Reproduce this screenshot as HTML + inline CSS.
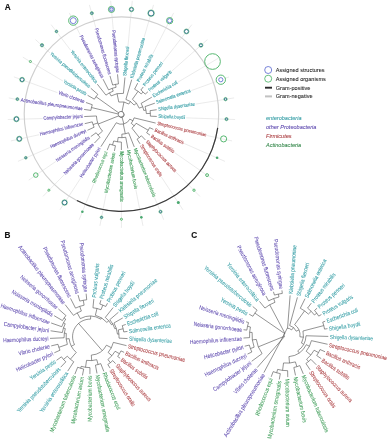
<!DOCTYPE html>
<html><head><meta charset="utf-8"><style>
html,body{margin:0;padding:0;background:#fff;}
body{width:388px;height:440px;overflow:hidden;font-family:"Liberation Sans",sans-serif;}
svg{display:block;will-change:transform;}
text{font-family:"Liberation Sans",sans-serif;}
</style></head><body>
<svg width="388" height="440" viewBox="0 0 388 440" font-family="Liberation Sans, sans-serif"><path d="M19.92 100.19L8.81 97.89M57.52 92.68L13.91 76.86M62.92 81.02L22.9 57.19M49.96 52.89L35.46 39.56M70.71 50.34L51.12 24.64M80.19 34.88L69.32 12.94M95.77 27.55L89.4 4.91M113.25 29.61L110.65 0.81M127.96 46L132.28 0.82M144.15 37.26L153.53 4.91M152.81 53.82L173.61 12.96M162.85 62.05L191.81 24.66M171.95 70.97L207.46 39.59M178.15 82.01L220.01 57.21M191.26 90.59L229 76.9M195.59 104.11L234.09 97.92M186.17 117.86L235.12 119.53M207.2 135.59L232.04 140.95M184.26 143.49L224.96 161.39M174.5 152.6L214.14 180.12M176.09 172.15L199.97 196.47M161.33 176.92L182.96 209.84M154.58 197.68L163.73 219.75M135.85 189.79L142.97 225.85M121.39 202.37L121.43 227.9M106.17 193.74L99.9 225.84M93.77 183.78L79.14 219.74M80.83 177.9L59.91 209.83M64.23 174.73L42.91 196.45M55.88 161.43L28.74 180.1M49.72 147.51L17.93 161.36M39.14 134.74L10.85 140.91M42.55 118.54L7.78 119.5" stroke="#d2d2d2" stroke-width="0.45" fill="none"/>
<circle cx="121.45" cy="114.1" r="97.25" stroke="#cfcfcf" stroke-width="1.15" fill="none"/>
<path d="M217.71 127.95A97.25 97.25 0 0 1 76.88 200.53" stroke="#3a3a3a" stroke-width="1.2" fill="none"/>
<circle cx="17.37" cy="99.12" r="1.5" stroke="#45b062" stroke-width="0.6" fill="#fff"/>
<circle cx="17.37" cy="99.12" r="0.95" stroke="#2b6f86" stroke-width="0.9" fill="none"/>
<circle cx="22.09" cy="79.69" r="2.4" stroke="#45b062" stroke-width="0.6" fill="#fff"/>
<circle cx="22.09" cy="79.69" r="1.85" stroke="#2b6f86" stroke-width="0.9" fill="none"/>
<circle cx="30.39" cy="61.51" r="1.05" stroke="#45b062" stroke-width="0.9" fill="none"/>
<circle cx="41.99" cy="45.23" r="1.7" stroke="#45b062" stroke-width="0.6" fill="#fff"/>
<circle cx="41.99" cy="45.23" r="1.15" stroke="#2b6f86" stroke-width="0.9" fill="none"/>
<circle cx="56.46" cy="31.44" r="1.4" stroke="#45b062" stroke-width="0.6" fill="#fff"/>
<circle cx="56.46" cy="31.44" r="0.85" stroke="#2b6f86" stroke-width="0.9" fill="none"/>
<circle cx="73.28" cy="20.63" r="4.65" stroke="#45b062" stroke-width="0.9" fill="#fff"/>
<circle cx="73.28" cy="20.63" r="3" stroke="#5565cf" stroke-width="0.8" fill="none"/>
<circle cx="91.84" cy="13.21" r="1.6" stroke="#45b062" stroke-width="0.6" fill="#fff"/>
<circle cx="91.84" cy="13.21" r="1.05" stroke="#2b6f86" stroke-width="0.9" fill="none"/>
<circle cx="111.47" cy="9.42" r="3.05" stroke="#45b062" stroke-width="0.9" fill="#d9dcf5"/>
<circle cx="111.47" cy="9.42" r="1.8" stroke="#5565cf" stroke-width="0.8" fill="none"/>
<circle cx="131.46" cy="9.43" r="2.3" stroke="#45b062" stroke-width="0.6" fill="#fff"/>
<circle cx="131.46" cy="9.43" r="1.75" stroke="#2b6f86" stroke-width="0.9" fill="none"/>
<circle cx="151.09" cy="13.21" r="3.3" stroke="#45b062" stroke-width="0.6" fill="#fff"/>
<circle cx="151.09" cy="13.21" r="2.75" stroke="#2b6f86" stroke-width="0.9" fill="none"/>
<circle cx="169.65" cy="20.65" r="3.15" stroke="#45b062" stroke-width="0.9" fill="#fff"/>
<circle cx="169.65" cy="20.65" r="2.1" stroke="#5565cf" stroke-width="0.8" fill="none"/>
<circle cx="186.46" cy="31.46" r="2.5" stroke="#45b062" stroke-width="0.6" fill="#fff"/>
<circle cx="186.46" cy="31.46" r="1.95" stroke="#2b6f86" stroke-width="0.9" fill="none"/>
<circle cx="200.93" cy="45.25" r="2" stroke="#45b062" stroke-width="0.6" fill="#fff"/>
<circle cx="200.93" cy="45.25" r="1.45" stroke="#2b6f86" stroke-width="0.9" fill="none"/>
<circle cx="212.52" cy="61.54" r="7.85" stroke="#45b062" stroke-width="0.9" fill="none"/>
<circle cx="220.82" cy="79.72" r="4.65" stroke="#45b062" stroke-width="0.9" fill="#fff"/>
<circle cx="220.82" cy="79.72" r="2.1" stroke="#5565cf" stroke-width="0.8" fill="none"/>
<circle cx="225.53" cy="99.15" r="1.7" stroke="#45b062" stroke-width="0.6" fill="#fff"/>
<circle cx="225.53" cy="99.15" r="1.15" stroke="#2b6f86" stroke-width="0.9" fill="none"/>
<circle cx="226.48" cy="119.12" r="1.6" stroke="#45b062" stroke-width="0.6" fill="#fff"/>
<circle cx="226.48" cy="119.12" r="1.05" stroke="#2b6f86" stroke-width="0.9" fill="none"/>
<circle cx="223.63" cy="138.9" r="3.05" stroke="#45b062" stroke-width="0.9" fill="none"/>
<circle cx="217.09" cy="157.79" r="1.3" fill="#4aa870"/>
<circle cx="207.09" cy="175.11" r="1.45" stroke="#45b062" stroke-width="0.9" fill="none"/>
<circle cx="194" cy="190.21" r="1.15" stroke="#45b062" stroke-width="0.9" fill="none"/>
<circle cx="178.29" cy="202.57" r="1.5" fill="#4aa870"/>
<circle cx="160.52" cy="211.72" r="1.6" stroke="#45b062" stroke-width="0.6" fill="#fff"/>
<circle cx="160.52" cy="211.72" r="1.05" stroke="#2b6f86" stroke-width="0.9" fill="none"/>
<circle cx="141.34" cy="217.35" r="1.3" fill="#4aa870"/>
<circle cx="121.43" cy="219.25" r="1.05" stroke="#45b062" stroke-width="0.9" fill="none"/>
<circle cx="101.54" cy="217.35" r="1.4" stroke="#45b062" stroke-width="0.6" fill="#fff"/>
<circle cx="101.54" cy="217.35" r="0.85" stroke="#2b6f86" stroke-width="0.9" fill="none"/>
<circle cx="82.36" cy="211.71" r="1.3" fill="#4aa870"/>
<circle cx="64.59" cy="202.55" r="2.8" stroke="#45b062" stroke-width="0.6" fill="#fff"/>
<circle cx="64.59" cy="202.55" r="2.25" stroke="#2b6f86" stroke-width="0.9" fill="none"/>
<circle cx="48.88" cy="190.19" r="1.05" stroke="#45b062" stroke-width="0.9" fill="none"/>
<circle cx="35.79" cy="175.08" r="2.25" stroke="#45b062" stroke-width="0.9" fill="none"/>
<circle cx="25.8" cy="157.77" r="1.4" stroke="#45b062" stroke-width="0.6" fill="#fff"/>
<circle cx="25.8" cy="157.77" r="0.85" stroke="#2b6f86" stroke-width="0.9" fill="none"/>
<circle cx="19.26" cy="138.88" r="2.7" stroke="#45b062" stroke-width="0.6" fill="#fff"/>
<circle cx="19.26" cy="138.88" r="2.15" stroke="#2b6f86" stroke-width="0.9" fill="none"/>
<circle cx="16.42" cy="119.09" r="2.7" stroke="#45b062" stroke-width="0.6" fill="#fff"/>
<circle cx="16.42" cy="119.09" r="2.15" stroke="#2b6f86" stroke-width="0.9" fill="none"/>
<text transform="translate(82.51 109.19) rotate(8.18)" text-anchor="end" fill="#5b46ad" stroke="#5b46ad" stroke-width="0.1" font-size="4.9" dy="0.25em" textLength="62.43" lengthAdjust="spacingAndGlyphs">Actinobacillus pleuropneumoniae</text>
<text transform="translate(84.46 102) rotate(19.09)" text-anchor="end" fill="#5b46ad" stroke="#5b46ad" stroke-width="0.1" font-size="4.9" dy="0.25em" textLength="27.7" lengthAdjust="spacingAndGlyphs">Vibrio cholerae</text>
<text transform="translate(86.18 94.45) rotate(30)" text-anchor="end" fill="#2e9aa2" stroke="#2e9aa2" stroke-width="0.1" font-size="4.9" dy="0.25em" textLength="26.06" lengthAdjust="spacingAndGlyphs">Yersinia pestis</text>
<text transform="translate(89.56 87.2) rotate(40.91)" text-anchor="end" fill="#2e9aa2" stroke="#2e9aa2" stroke-width="0.1" font-size="4.9" dy="0.25em" textLength="51.6" lengthAdjust="spacingAndGlyphs">Yersinia pseudotuberculosis</text>
<text transform="translate(96.3 82.88) rotate(51.82)" text-anchor="end" fill="#2e9aa2" stroke="#2e9aa2" stroke-width="0.1" font-size="4.9" dy="0.25em" textLength="40.61" lengthAdjust="spacingAndGlyphs">Yersinia enterocolitica</text>
<text transform="translate(102.3 77.75) rotate(62.73)" text-anchor="end" fill="#5b46ad" stroke="#5b46ad" stroke-width="0.1" font-size="4.9" dy="0.25em" textLength="47.44" lengthAdjust="spacingAndGlyphs">Pseudomonas aeruginosa</text>
<text transform="translate(109.51 74.33) rotate(73.63)" text-anchor="end" fill="#5b46ad" stroke="#5b46ad" stroke-width="0.1" font-size="4.9" dy="0.25em" textLength="47.95" lengthAdjust="spacingAndGlyphs">Pseudomonas fluorescens</text>
<text transform="translate(117.38 72.75) rotate(84.54)" text-anchor="end" fill="#5b46ad" stroke="#5b46ad" stroke-width="0.1" font-size="4.9" dy="0.25em" textLength="42.54" lengthAdjust="spacingAndGlyphs">Pseudomonas syringae</text>
<text transform="translate(125.11 75.85) rotate(-84.55)" text-anchor="start" fill="#2e9aa2" stroke="#2e9aa2" stroke-width="0.1" font-size="4.9" dy="0.25em" textLength="29.18" lengthAdjust="spacingAndGlyphs">Shigella flexneri</text>
<text transform="translate(132.15 78.13) rotate(-73.64)" text-anchor="start" fill="#2e9aa2" stroke="#2e9aa2" stroke-width="0.1" font-size="4.9" dy="0.25em" textLength="41.79" lengthAdjust="spacingAndGlyphs">Klebsiella pneumoniae</text>
<text transform="translate(138.41 81.76) rotate(-62.73)" text-anchor="start" fill="#2e9aa2" stroke="#2e9aa2" stroke-width="0.1" font-size="4.9" dy="0.25em" textLength="30.63" lengthAdjust="spacingAndGlyphs">Proteus mirabilis</text>
<text transform="translate(144.25 85.7) rotate(-51.82)" text-anchor="start" fill="#2e9aa2" stroke="#2e9aa2" stroke-width="0.1" font-size="4.9" dy="0.25em" textLength="29.29" lengthAdjust="spacingAndGlyphs">Proteus penneri</text>
<text transform="translate(149.13 90.74) rotate(-40.91)" text-anchor="start" fill="#2e9aa2" stroke="#2e9aa2" stroke-width="0.1" font-size="4.9" dy="0.25em" textLength="29.39" lengthAdjust="spacingAndGlyphs">Proteus vulgaris</text>
<text transform="translate(153.2 96.41) rotate(-30)" text-anchor="start" fill="#2e9aa2" stroke="#2e9aa2" stroke-width="0.1" font-size="4.9" dy="0.25em" textLength="28.01" lengthAdjust="spacingAndGlyphs">Escherichia coli</text>
<text transform="translate(156.35 102.68) rotate(-19.09)" text-anchor="start" fill="#2e9aa2" stroke="#2e9aa2" stroke-width="0.1" font-size="4.9" dy="0.25em" textLength="36.14" lengthAdjust="spacingAndGlyphs">Salmonella enterica</text>
<text transform="translate(158.26 109.48) rotate(-8.18)" text-anchor="start" fill="#2e9aa2" stroke="#2e9aa2" stroke-width="0.1" font-size="4.9" dy="0.25em" textLength="36.92" lengthAdjust="spacingAndGlyphs">Shigella dysenteriae</text>
<text transform="translate(158.37 116.54) rotate(2.73)" text-anchor="start" fill="#2e9aa2" stroke="#2e9aa2" stroke-width="0.1" font-size="4.9" dy="0.25em" textLength="27.03" lengthAdjust="spacingAndGlyphs">Shigella boydii</text>
<text transform="translate(157.2 123.47) rotate(13.63)" text-anchor="start" fill="#a8363a" stroke="#a8363a" stroke-width="0.1" font-size="4.9" dy="0.25em" textLength="50.64" lengthAdjust="spacingAndGlyphs">Streptococcus pneumoniae</text>
<text transform="translate(154.86 130.07) rotate(24.54)" text-anchor="start" fill="#a8363a" stroke="#a8363a" stroke-width="0.1" font-size="4.9" dy="0.25em" textLength="31.52" lengthAdjust="spacingAndGlyphs">Bacillus anthracis</text>
<text transform="translate(151.28 136.06) rotate(35.45)" text-anchor="start" fill="#a8363a" stroke="#a8363a" stroke-width="0.1" font-size="4.9" dy="0.25em" textLength="27.71" lengthAdjust="spacingAndGlyphs">Bacillus subtilis</text>
<text transform="translate(146.49 141.1) rotate(46.36)" text-anchor="start" fill="#a8363a" stroke="#a8363a" stroke-width="0.1" font-size="4.9" dy="0.25em" textLength="42.1" lengthAdjust="spacingAndGlyphs">Staphylococcus aureus</text>
<text transform="translate(140.92 145.17) rotate(57.27)" text-anchor="start" fill="#a8363a" stroke="#a8363a" stroke-width="0.1" font-size="4.9" dy="0.25em" textLength="36.94" lengthAdjust="spacingAndGlyphs">Streptococcus oralis</text>
<text transform="translate(134.86 148.42) rotate(68.18)" text-anchor="start" fill="#3a9a55" stroke="#3a9a55" stroke-width="0.1" font-size="4.9" dy="0.25em" textLength="52.26" lengthAdjust="spacingAndGlyphs">Mycobacterium tuberculosis</text>
<text transform="translate(128.19 150.08) rotate(79.09)" text-anchor="start" fill="#3a9a55" stroke="#3a9a55" stroke-width="0.1" font-size="4.9" dy="0.25em" textLength="39.65" lengthAdjust="spacingAndGlyphs">Mycobacterium bovis</text>
<text transform="translate(121.39 151.61) rotate(90)" text-anchor="start" fill="#3a9a55" stroke="#3a9a55" stroke-width="0.1" font-size="4.9" dy="0.25em" textLength="49.96" lengthAdjust="spacingAndGlyphs">Mycobacterium smegmatis</text>
<text transform="translate(114.12 152.5) rotate(-79.09)" text-anchor="end" fill="#3a9a55" stroke="#3a9a55" stroke-width="0.1" font-size="4.9" dy="0.25em" textLength="41.2" lengthAdjust="spacingAndGlyphs">Mycobacterium avium</text>
<text transform="translate(106.61 151.69) rotate(-68.18)" text-anchor="end" fill="#3a9a55" stroke="#3a9a55" stroke-width="0.1" font-size="4.9" dy="0.25em" textLength="33.76" lengthAdjust="spacingAndGlyphs">Rhodococcus equi</text>
<text transform="translate(100.04 148.01) rotate(-57.27)" text-anchor="end" fill="#5b46ad" stroke="#5b46ad" stroke-width="0.1" font-size="4.9" dy="0.25em" textLength="34.73" lengthAdjust="spacingAndGlyphs">Helicobacter pylori</text>
<text transform="translate(93.37 144.16) rotate(-46.37)" text-anchor="end" fill="#5b46ad" stroke="#5b46ad" stroke-width="0.1" font-size="4.9" dy="0.25em" textLength="41.43" lengthAdjust="spacingAndGlyphs">Neisseria gonorrhoeae</text>
<text transform="translate(89.48 137.5) rotate(-35.46)" text-anchor="end" fill="#5b46ad" stroke="#5b46ad" stroke-width="0.1" font-size="4.9" dy="0.25em" textLength="40.45" lengthAdjust="spacingAndGlyphs">Neisseria meningitidis</text>
<text transform="translate(86.01 130.94) rotate(-24.55)" text-anchor="end" fill="#5b46ad" stroke="#5b46ad" stroke-width="0.1" font-size="4.9" dy="0.25em" textLength="39.1" lengthAdjust="spacingAndGlyphs">Haemophilus ducreyi</text>
<text transform="translate(83.23 124.04) rotate(-13.64)" text-anchor="end" fill="#5b46ad" stroke="#5b46ad" stroke-width="0.1" font-size="4.9" dy="0.25em" textLength="44.57" lengthAdjust="spacingAndGlyphs">Haemophilus influenzae</text>
<text transform="translate(82.63 116.63) rotate(-2.73)" text-anchor="end" fill="#5b46ad" stroke="#5b46ad" stroke-width="0.1" font-size="4.9" dy="0.25em" textLength="39.33" lengthAdjust="spacingAndGlyphs">Campylobacter jejuni</text>
<path d="M90.9 110.4L84.09 109.42M92.28 104.71L85.97 102.52M90.9 110.4A30.8 30.8 0 0 1 92.28 104.71M118.67 114.12L91.46 107.52M94.37 99.18L87.56 95.25M97.81 94.35L90.77 88.25M94.37 99.18A31.2 31.2 0 0 1 97.81 94.35M119.11 113.16L95.97 96.68M105.94 95.13L97.29 84.14M108.56 89.89L103.03 79.17M112.66 85.04L109.96 75.86M118.44 83.92L117.53 74.34M112.66 85.04A31 31 0 0 1 118.44 83.92M116.09 87.29L115.52 84.34M108.56 89.89A28 28 0 0 1 116.09 87.29M113.21 91.16L112.23 88.32M105.94 95.13A25 25 0 0 1 113.21 91.16M111.09 95.91L109.41 92.84M123.43 93.38L124.95 77.44M111.09 95.91A21.5 21.5 0 0 1 123.43 93.38M118.78 102.05L117.07 93.72M125.9 99.43L131.7 79.66M134.59 89.18L137.68 83.18M140.86 90.02L143.27 86.96M145.2 94.15L147.92 91.79M140.86 90.02A31.5 31.5 0 0 1 145.2 94.15M141.26 93.94L143.13 91.98M134.59 89.18A28.8 28.8 0 0 1 141.26 93.94M132.41 99.3L138.09 91.32M141.14 103.38L151.81 97.21M145.01 106.6L154.84 103.2M150.09 110.65L156.68 109.71M150.36 116.16L156.77 116.46M150.09 110.65A29 29 0 0 1 150.36 116.16M146.36 113.59L150.36 113.4M145.01 106.6A25 25 0 0 1 146.36 113.59M143.78 110.46L145.94 110.05M141.14 103.38A22.8 22.8 0 0 1 143.78 110.46M139.19 108.14L142.75 106.81M132.41 99.3A19 19 0 0 1 139.19 108.14M134.08 105.04L136.46 103.21M125.9 99.43A16 16 0 0 1 134.08 105.04M128.74 104.06L130.44 101.58M118.78 102.05A13 13 0 0 1 128.74 104.06M121.94 112.04L123.96 102.04M134.02 117.84L155.65 123.09M149.59 127.66L153.41 129.4M146.64 132.76L149.97 135.13M149.59 127.66A31 31 0 0 1 146.64 132.76M136.11 123.28L148.24 130.28M141.4 135.77L145.38 139.94M137.07 139.18L140.06 143.83M141.4 135.77A29 29 0 0 1 137.07 139.18M131.9 128.14L139.32 137.57M136.11 123.28A17 17 0 0 1 131.9 128.14M131.22 123.29L134.24 125.91M134.02 117.84A13 13 0 0 1 131.22 123.29M129.83 119.13L132.95 120.74M128.6 132.79L134.27 146.94M125.72 137.27L127.89 148.51M121.39 142.08L121.39 150.01M115.43 145.71L114.42 150.93M109.68 144.02L107.21 150.21M115.43 145.71A31.5 31.5 0 0 1 109.68 144.02M113.7 140.97L112.52 145M121.39 142.08A27.3 27.3 0 0 1 113.7 140.97M118.13 137.45L117.51 141.8M125.72 137.27A22.9 22.9 0 0 1 118.13 137.45M121.85 134.17L121.94 137.67M128.6 132.79A19.4 19.4 0 0 1 121.85 134.17M123.3 124.09L125.29 133.78M116.25 122.77L100.9 146.66M129.83 119.13A9.5 9.5 0 0 1 116.25 122.77M122.11 117.48L123.85 123.96M96.42 115.97L84.23 116.55M92.24 121.85L84.78 123.66M94.1 127.24L87.47 130.27M94.1 127.24A30 30 0 0 1 92.24 121.85M97.77 122.96L93.04 124.59M96.14 132.76L90.79 136.57M100 137.22L94.48 143.01M100 137.22A31 31 0 0 1 96.14 132.76M102.5 131.15L97.96 135.08M102.5 131.15A25 25 0 0 1 96.42 115.97M118.79 115.82L98.18 124.07M118.67 114.12A2.8 2.8 0 1 1 118.79 115.82" stroke="#3a3a3a" stroke-width="0.55" fill="none"/>
<circle cx="121" cy="114.2" r="2.8" stroke="#3a3a3a" stroke-width="0.55" fill="#fff"/>
<circle cx="268.2" cy="70" r="3.5" stroke="#5565cf" stroke-width="0.8" fill="none"/>
<circle cx="268.2" cy="78.7" r="3.5" stroke="#45b062" stroke-width="0.8" fill="none"/>
<path d="M265 87.7H272" stroke="#2a2a2a" stroke-width="1.9"/>
<path d="M265 96.4H272" stroke="#c2c2c2" stroke-width="2"/>
<text transform="translate(275.8 71.9) scale(0.944 1)" font-size="5.9" fill="#1e1e1e" stroke="#1e1e1e" stroke-width="0.07">Assigned structures</text>
<text transform="translate(275.8 80.6) scale(0.944 1)" font-size="5.9" fill="#1e1e1e" stroke="#1e1e1e" stroke-width="0.07">Assigned organisms</text>
<text transform="translate(275.8 89.6) scale(0.944 1)" font-size="5.9" fill="#1e1e1e" stroke="#1e1e1e" stroke-width="0.07">Gram-positive</text>
<text transform="translate(275.8 98.1) scale(0.944 1)" font-size="5.9" fill="#1e1e1e" stroke="#1e1e1e" stroke-width="0.07">Gram-negative</text>
<text transform="translate(266 120.3) scale(0.944 1)" font-size="5.9" fill="#2e9aa2" stroke="#2e9aa2" stroke-width="0.07" font-style="italic">enterobacteria</text>
<text transform="translate(266 129.3) scale(0.944 1)" font-size="5.9" fill="#5b46ad" stroke="#5b46ad" stroke-width="0.07" font-style="italic">other Proteobacteria</text>
<text transform="translate(266 138.3) scale(0.944 1)" font-size="5.9" fill="#a8363a" stroke="#a8363a" stroke-width="0.07" font-style="italic">Firmicutes</text>
<text transform="translate(266 147.0) scale(0.944 1)" font-size="5.9" fill="#2f8446" stroke="#2f8446" stroke-width="0.07" font-style="italic">Actinobacteria</text>
<text transform="translate(49.09 330.57) rotate(8.42)" text-anchor="end" fill="#5b46ad" stroke="#5b46ad" stroke-width="0.05" font-size="5.83" dy="0.33em" textLength="45.75" lengthAdjust="spacingAndGlyphs">Campylobacter jejuni</text>
<text transform="translate(49.71 322.48) rotate(19.33)" text-anchor="end" fill="#5b46ad" stroke="#5b46ad" stroke-width="0.05" font-size="5.83" dy="0.33em" textLength="51.84" lengthAdjust="spacingAndGlyphs">Haemophilus influenzae</text>
<text transform="translate(52.82 314.92) rotate(30.24)" text-anchor="end" fill="#5b46ad" stroke="#5b46ad" stroke-width="0.05" font-size="5.83" dy="0.33em" textLength="47.05" lengthAdjust="spacingAndGlyphs">Neisseria meningitidis</text>
<text transform="translate(57.2 307.92) rotate(41.15)" text-anchor="end" fill="#5b46ad" stroke="#5b46ad" stroke-width="0.05" font-size="5.83" dy="0.33em" textLength="48.2" lengthAdjust="spacingAndGlyphs">Neisseria gonorrhoeae</text>
<text transform="translate(64.18 303.44) rotate(52.06)" text-anchor="end" fill="#5b46ad" stroke="#5b46ad" stroke-width="0.05" font-size="5.83" dy="0.33em" textLength="72.63" lengthAdjust="spacingAndGlyphs">Actinobacillus pleuropneumoniae</text>
<text transform="translate(69.85 297.02) rotate(62.97)" text-anchor="end" fill="#5b46ad" stroke="#5b46ad" stroke-width="0.05" font-size="5.83" dy="0.33em" textLength="55.78" lengthAdjust="spacingAndGlyphs">Pseudomonas fluorescens</text>
<text transform="translate(77.63 293.6) rotate(73.87)" text-anchor="end" fill="#5b46ad" stroke="#5b46ad" stroke-width="0.05" font-size="5.83" dy="0.33em" textLength="55.18" lengthAdjust="spacingAndGlyphs">Pseudomonas aeruginosa</text>
<text transform="translate(86.01 292.17) rotate(84.78)" text-anchor="end" fill="#5b46ad" stroke="#5b46ad" stroke-width="0.05" font-size="5.83" dy="0.33em" textLength="49.48" lengthAdjust="spacingAndGlyphs">Pseudomonas syringae</text>
<text transform="translate(93.96 297.57) rotate(-84.31)" text-anchor="start" fill="#2e9aa2" stroke="#2e9aa2" stroke-width="0.05" font-size="5.83" dy="0.33em" textLength="34.19" lengthAdjust="spacingAndGlyphs">Proteus vulgaris</text>
<text transform="translate(101.37 298.74) rotate(-73.4)" text-anchor="start" fill="#2e9aa2" stroke="#2e9aa2" stroke-width="0.05" font-size="5.83" dy="0.33em" textLength="35.63" lengthAdjust="spacingAndGlyphs">Proteus mirabilis</text>
<text transform="translate(108.17 301.89) rotate(-62.49)" text-anchor="start" fill="#2e9aa2" stroke="#2e9aa2" stroke-width="0.05" font-size="5.83" dy="0.33em" textLength="34.07" lengthAdjust="spacingAndGlyphs">Proteus penneri</text>
<text transform="translate(114.08 306.37) rotate(-51.58)" text-anchor="start" fill="#2e9aa2" stroke="#2e9aa2" stroke-width="0.05" font-size="5.83" dy="0.33em" textLength="31.44" lengthAdjust="spacingAndGlyphs">Shigella boydii</text>
<text transform="translate(119.56 311.3) rotate(-40.67)" text-anchor="start" fill="#2e9aa2" stroke="#2e9aa2" stroke-width="0.05" font-size="5.83" dy="0.33em" textLength="48.61" lengthAdjust="spacingAndGlyphs">Klebsiella pneumoniae</text>
<text transform="translate(124.06 317.21) rotate(-29.76)" text-anchor="start" fill="#2e9aa2" stroke="#2e9aa2" stroke-width="0.05" font-size="5.83" dy="0.33em" textLength="33.95" lengthAdjust="spacingAndGlyphs">Shigella flexneri</text>
<text transform="translate(127.17 323.97) rotate(-18.85)" text-anchor="start" fill="#2e9aa2" stroke="#2e9aa2" stroke-width="0.05" font-size="5.83" dy="0.33em" textLength="32.58" lengthAdjust="spacingAndGlyphs">Escherichia coli</text>
<text transform="translate(128.95 331.21) rotate(-7.94)" text-anchor="start" fill="#2e9aa2" stroke="#2e9aa2" stroke-width="0.05" font-size="5.83" dy="0.33em" textLength="42.04" lengthAdjust="spacingAndGlyphs">Salmonella enterica</text>
<text transform="translate(129.07 338.66) rotate(2.97)" text-anchor="start" fill="#2e9aa2" stroke="#2e9aa2" stroke-width="0.05" font-size="5.83" dy="0.33em" textLength="42.94" lengthAdjust="spacingAndGlyphs">Shigella dysenteriae</text>
<text transform="translate(127.97 346) rotate(13.87)" text-anchor="start" fill="#a8363a" stroke="#a8363a" stroke-width="0.05" font-size="5.83" dy="0.33em" textLength="58.91" lengthAdjust="spacingAndGlyphs">Streptococcus pneumoniae</text>
<text transform="translate(125.49 352.99) rotate(24.78)" text-anchor="start" fill="#a8363a" stroke="#a8363a" stroke-width="0.05" font-size="5.83" dy="0.33em" textLength="36.66" lengthAdjust="spacingAndGlyphs">Bacillus anthracis</text>
<text transform="translate(121.38 359.13) rotate(35.69)" text-anchor="start" fill="#a8363a" stroke="#a8363a" stroke-width="0.05" font-size="5.83" dy="0.33em" textLength="32.24" lengthAdjust="spacingAndGlyphs">Bacillus subtilis</text>
<text transform="translate(116.61 364.71) rotate(46.6)" text-anchor="start" fill="#a8363a" stroke="#a8363a" stroke-width="0.05" font-size="5.83" dy="0.33em" textLength="48.97" lengthAdjust="spacingAndGlyphs">Staphylococcus aureus</text>
<text transform="translate(110.91 369.37) rotate(57.51)" text-anchor="start" fill="#a8363a" stroke="#a8363a" stroke-width="0.05" font-size="5.83" dy="0.33em" textLength="42.97" lengthAdjust="spacingAndGlyphs">Streptococcus oralis</text>
<text transform="translate(104.38 372.81) rotate(68.42)" text-anchor="start" fill="#3a9a55" stroke="#3a9a55" stroke-width="0.05" font-size="5.83" dy="0.33em" textLength="39.28" lengthAdjust="spacingAndGlyphs">Rhodococcus equi</text>
<text transform="translate(97.28 374.93) rotate(79.33)" text-anchor="start" fill="#3a9a55" stroke="#3a9a55" stroke-width="0.05" font-size="5.83" dy="0.33em" textLength="58.11" lengthAdjust="spacingAndGlyphs">Mycobacterium smegmatis</text>
<text transform="translate(89.91 375.61) rotate(-89.76)" text-anchor="end" fill="#3a9a55" stroke="#3a9a55" stroke-width="0.05" font-size="5.83" dy="0.33em" textLength="46.12" lengthAdjust="spacingAndGlyphs">Mycobacterium bovis</text>
<text transform="translate(82.14 376.91) rotate(-78.85)" text-anchor="end" fill="#3a9a55" stroke="#3a9a55" stroke-width="0.05" font-size="5.83" dy="0.33em" textLength="47.93" lengthAdjust="spacingAndGlyphs">Mycobacterium avium</text>
<text transform="translate(74.29 375.59) rotate(-67.94)" text-anchor="end" fill="#3a9a55" stroke="#3a9a55" stroke-width="0.05" font-size="5.83" dy="0.33em" textLength="60.79" lengthAdjust="spacingAndGlyphs">Mycobacterium tuberculosis</text>
<text transform="translate(66.9 372.37) rotate(-57.03)" text-anchor="end" fill="#2e9aa2" stroke="#2e9aa2" stroke-width="0.05" font-size="5.83" dy="0.33em" textLength="47.24" lengthAdjust="spacingAndGlyphs">Yersinia enterocolitica</text>
<text transform="translate(59.62 368.31) rotate(-46.13)" text-anchor="end" fill="#2e9aa2" stroke="#2e9aa2" stroke-width="0.05" font-size="5.83" dy="0.33em" textLength="60.03" lengthAdjust="spacingAndGlyphs">Yersinia pseudotuberculosis</text>
<text transform="translate(55.32 361.17) rotate(-35.22)" text-anchor="end" fill="#2e9aa2" stroke="#2e9aa2" stroke-width="0.05" font-size="5.83" dy="0.33em" textLength="30.31" lengthAdjust="spacingAndGlyphs">Yersinia pestis</text>
<text transform="translate(52.98 353.39) rotate(-24.31)" text-anchor="end" fill="#5b46ad" stroke="#5b46ad" stroke-width="0.05" font-size="5.83" dy="0.33em" textLength="40.4" lengthAdjust="spacingAndGlyphs">Helicobacter pylori</text>
<text transform="translate(49.78 346.24) rotate(-13.4)" text-anchor="end" fill="#5b46ad" stroke="#5b46ad" stroke-width="0.05" font-size="5.83" dy="0.33em" textLength="32.23" lengthAdjust="spacingAndGlyphs">Vibrio cholerae</text>
<text transform="translate(48.51 338.45) rotate(-2.49)" text-anchor="end" fill="#5b46ad" stroke="#5b46ad" stroke-width="0.05" font-size="5.83" dy="0.33em" textLength="45.49" lengthAdjust="spacingAndGlyphs">Haemophilus ducreyi</text>
<path d="M73.75 361.81L67.71 371.11M65.81 361.87L60.66 367.23M61.48 356.82L56.55 360.3M65.81 361.87A35 35 0 0 1 61.48 356.82M67.32 356.19L63.52 359.45M73.75 361.81A30 30 0 0 1 67.32 356.19M76.25 352.45L70.33 359.23M60 350.22L54.35 352.78M57.97 344.29L51.24 345.89M60 350.22A33 33 0 0 1 57.97 344.29M67.36 344.4L58.84 347.3M64.09 337.77L50.01 338.38M62.37 332.54L50.57 330.79M61.76 326.71L51.13 322.98M62.42 320.52L54.11 315.68M65.97 315.58L58.33 308.91M62.42 320.52A32 32 0 0 1 65.97 315.58M65.71 319.14L64.08 317.97M61.76 326.71A30 30 0 0 1 65.71 319.14M65.24 323.71L63.46 322.78M62.37 332.54A28 28 0 0 1 65.24 323.71M65.34 328.62L63.44 328M64.09 337.77A26 26 0 0 1 65.34 328.62M66.29 333.41L64.31 333.14M67.36 344.4A24 24 0 0 1 66.29 333.41M69.17 338.67L66.18 338.96M76.25 352.45A21 21 0 0 1 69.17 338.67M74.51 344.64L71.39 346.24M73.47 315.35L65.11 304.62M75.53 308.14L70.53 298.36M79.79 301.1L78.04 295.04M86.71 299.79L86.15 293.67M79.79 301.1A37 37 0 0 1 86.71 299.79M84.14 305.19L83.22 300.28M75.53 308.14A32 32 0 0 1 84.14 305.19M81.35 311.09L79.73 306.36M73.47 315.35A27 27 0 0 1 81.35 311.09M80.32 318.61L77.23 312.89M92.95 307.78L93.82 299.07M99.78 304.06L100.94 300.18M105.78 306.48L107.48 303.22M99.78 304.06A34 34 0 0 1 105.78 306.48M100.96 309.76L102.84 305.13M92.95 307.78A29 29 0 0 1 100.96 309.76M95.35 315.28L97.02 308.49M105.29 317.44L113.15 307.54M109.79 319.7L118.42 312.28M113.94 322.99L122.75 317.95M122.25 325.65L125.75 324.46M123.74 331.94L127.47 331.42M122.25 325.65A34 34 0 0 1 123.74 331.94M118.28 329.92L123.14 328.76M119.03 338.14L127.57 338.58M118.28 329.92A29 29 0 0 1 119.03 338.14M117.46 334.14L118.95 334M113.94 322.99A27.5 27.5 0 0 1 117.46 334.14M114.87 328.83L116.3 328.38M109.79 319.7A26 26 0 0 1 114.87 328.83M111.48 324.73L112.79 324M105.29 317.44A24.5 24.5 0 0 1 111.48 324.73M106.84 322.4L108.75 320.78M95.35 315.28A22 22 0 0 1 106.84 322.4M100.86 319.21L101.65 317.94M80.32 318.61A20.5 20.5 0 0 1 100.86 319.21M90.59 319.15L90.67 316.15M74.51 344.64A17.5 17.5 0 0 1 90.59 319.15M90.07 336.64L78.59 323.43M113.37 342.4L126.51 345.64M120.94 350.89L124.13 352.36M117.68 356.48L120.16 358.26M120.94 350.89A34 34 0 0 1 117.68 356.48M115.12 351.24L119.44 353.76M112.74 360.62L115.58 363.62M107.8 364.48L110.11 368.1M112.74 360.62A33 33 0 0 1 107.8 364.48M107.9 359.51L110.36 362.66M115.12 351.24A29 29 0 0 1 107.9 359.51M108.14 352.43L111.91 355.72M113.37 342.4A24 24 0 0 1 108.14 352.43M106.48 345.19L111.36 347.73M100.74 363.61L103.83 371.42M95.44 365.14L97.01 373.45M100.74 363.61A29 29 0 0 1 95.44 365.14M96.74 359.7L98.12 364.5M89.94 367.64L89.91 374.11M83.69 369.02L82.43 375.43M77.68 367.22L74.85 374.2M83.69 369.02A33 33 0 0 1 77.68 367.22M81.21 366.35L80.64 368.26M89.94 367.64A31 31 0 0 1 81.21 366.35M86.56 360.38L85.53 367.31M96.74 359.7A24 24 0 0 1 86.56 360.38M91.31 355.1L91.68 360.59M106.48 345.19A18.5 18.5 0 0 1 91.31 355.1M90.07 336.64L102.21 350.6" stroke="#3a3a3a" stroke-width="0.55" fill="none"/>
<text transform="translate(241.99 338.12) rotate(-3.73)" text-anchor="end" fill="#5b46ad" stroke="#5b46ad" stroke-width="0.05" font-size="5.83" dy="0.42em" textLength="52.25" lengthAdjust="spacingAndGlyphs">Haemophilus influenzae</text>
<text transform="translate(242.04 329.51) rotate(7.18)" text-anchor="end" fill="#5b46ad" stroke="#5b46ad" stroke-width="0.05" font-size="5.83" dy="0.42em" textLength="48.57" lengthAdjust="spacingAndGlyphs">Neisseria gonorrhoeae</text>
<text transform="translate(244.55 321.31) rotate(18.09)" text-anchor="end" fill="#5b46ad" stroke="#5b46ad" stroke-width="0.05" font-size="5.83" dy="0.42em" textLength="47.42" lengthAdjust="spacingAndGlyphs">Neisseria meningitidis</text>
<text transform="translate(247.89 313.49) rotate(29)" text-anchor="end" fill="#2e9aa2" stroke="#2e9aa2" stroke-width="0.05" font-size="5.83" dy="0.42em" textLength="30.55" lengthAdjust="spacingAndGlyphs">Yersinia pestis</text>
<text transform="translate(251.53 305.5) rotate(39.91)" text-anchor="end" fill="#2e9aa2" stroke="#2e9aa2" stroke-width="0.05" font-size="5.83" dy="0.42em" textLength="60.49" lengthAdjust="spacingAndGlyphs">Yersinia pseudotuberculosis</text>
<text transform="translate(258.52 300.22) rotate(50.82)" text-anchor="end" fill="#2e9aa2" stroke="#2e9aa2" stroke-width="0.05" font-size="5.83" dy="0.42em" textLength="47.61" lengthAdjust="spacingAndGlyphs">Yersinia enterocolitica</text>
<text transform="translate(265.22 294.65) rotate(61.72)" text-anchor="end" fill="#5b46ad" stroke="#5b46ad" stroke-width="0.05" font-size="5.83" dy="0.42em" textLength="55.61" lengthAdjust="spacingAndGlyphs">Pseudomonas aeruginosa</text>
<text transform="translate(273 290.36) rotate(72.63)" text-anchor="end" fill="#5b46ad" stroke="#5b46ad" stroke-width="0.05" font-size="5.83" dy="0.42em" textLength="56.21" lengthAdjust="spacingAndGlyphs">Pseudomonas fluorescens</text>
<text transform="translate(281.78 288.86) rotate(83.54)" text-anchor="end" fill="#5b46ad" stroke="#5b46ad" stroke-width="0.05" font-size="5.83" dy="0.42em" textLength="49.87" lengthAdjust="spacingAndGlyphs">Pseudomonas syringae</text>
<text transform="translate(290.24 293.88) rotate(-85.55)" text-anchor="start" fill="#2e9aa2" stroke="#2e9aa2" stroke-width="0.05" font-size="5.83" dy="0.42em" textLength="48.99" lengthAdjust="spacingAndGlyphs">Klebsiella pneumoniae</text>
<text transform="translate(297.81 295.89) rotate(-74.64)" text-anchor="start" fill="#2e9aa2" stroke="#2e9aa2" stroke-width="0.05" font-size="5.83" dy="0.42em" textLength="34.21" lengthAdjust="spacingAndGlyphs">Shigella flexneri</text>
<text transform="translate(305.72 297.3) rotate(-63.73)" text-anchor="start" fill="#2e9aa2" stroke="#2e9aa2" stroke-width="0.05" font-size="5.83" dy="0.42em" textLength="42.37" lengthAdjust="spacingAndGlyphs">Salmonella enterica</text>
<text transform="translate(312.22 301.96) rotate(-52.82)" text-anchor="start" fill="#2e9aa2" stroke="#2e9aa2" stroke-width="0.05" font-size="5.83" dy="0.42em" textLength="35.91" lengthAdjust="spacingAndGlyphs">Proteus mirabilis</text>
<text transform="translate(318.18 307.21) rotate(-41.91)" text-anchor="start" fill="#2e9aa2" stroke="#2e9aa2" stroke-width="0.05" font-size="5.83" dy="0.42em" textLength="34.33" lengthAdjust="spacingAndGlyphs">Proteus penneri</text>
<text transform="translate(322.73 313.72) rotate(-31)" text-anchor="start" fill="#2e9aa2" stroke="#2e9aa2" stroke-width="0.05" font-size="5.83" dy="0.42em" textLength="34.46" lengthAdjust="spacingAndGlyphs">Proteus vulgaris</text>
<text transform="translate(326.62 320.69) rotate(-20.09)" text-anchor="start" fill="#2e9aa2" stroke="#2e9aa2" stroke-width="0.05" font-size="5.83" dy="0.42em" textLength="32.83" lengthAdjust="spacingAndGlyphs">Escherichia coli</text>
<text transform="translate(328.97 328.4) rotate(-9.18)" text-anchor="start" fill="#2e9aa2" stroke="#2e9aa2" stroke-width="0.05" font-size="5.83" dy="0.42em" textLength="31.69" lengthAdjust="spacingAndGlyphs">Shigella boydii</text>
<text transform="translate(329.79 336.47) rotate(1.72)" text-anchor="start" fill="#2e9aa2" stroke="#2e9aa2" stroke-width="0.05" font-size="5.83" dy="0.42em" textLength="43.28" lengthAdjust="spacingAndGlyphs">Shigella dysenteriae</text>
<text transform="translate(329.07 344.6) rotate(12.63)" text-anchor="start" fill="#a8363a" stroke="#a8363a" stroke-width="0.05" font-size="5.83" dy="0.42em" textLength="59.37" lengthAdjust="spacingAndGlyphs">Streptococcus pneumoniae</text>
<text transform="translate(326.44 352.36) rotate(23.54)" text-anchor="start" fill="#a8363a" stroke="#a8363a" stroke-width="0.05" font-size="5.83" dy="0.42em" textLength="36.95" lengthAdjust="spacingAndGlyphs">Bacillus anthracis</text>
<text transform="translate(322.48 359.51) rotate(34.45)" text-anchor="start" fill="#a8363a" stroke="#a8363a" stroke-width="0.05" font-size="5.83" dy="0.42em" textLength="32.49" lengthAdjust="spacingAndGlyphs">Bacillus subtilis</text>
<text transform="translate(317.3 365.85) rotate(45.36)" text-anchor="start" fill="#a8363a" stroke="#a8363a" stroke-width="0.05" font-size="5.83" dy="0.42em" textLength="49.35" lengthAdjust="spacingAndGlyphs">Staphylococcus aureus</text>
<text transform="translate(311.01 371.11) rotate(56.27)" text-anchor="start" fill="#a8363a" stroke="#a8363a" stroke-width="0.05" font-size="5.83" dy="0.42em" textLength="43.31" lengthAdjust="spacingAndGlyphs">Streptococcus oralis</text>
<text transform="translate(303.88 375.26) rotate(67.18)" text-anchor="start" fill="#3a9a55" stroke="#3a9a55" stroke-width="0.05" font-size="5.83" dy="0.42em" textLength="61.26" lengthAdjust="spacingAndGlyphs">Mycobacterium tuberculosis</text>
<text transform="translate(295.82 376.89) rotate(78.09)" text-anchor="start" fill="#3a9a55" stroke="#3a9a55" stroke-width="0.05" font-size="5.83" dy="0.42em" textLength="46.48" lengthAdjust="spacingAndGlyphs">Mycobacterium bovis</text>
<text transform="translate(287.78 378.59) rotate(89)" text-anchor="start" fill="#3a9a55" stroke="#3a9a55" stroke-width="0.05" font-size="5.83" dy="0.42em" textLength="48.3" lengthAdjust="spacingAndGlyphs">Mycobacterium avium</text>
<text transform="translate(279.03 380.94) rotate(-80.09)" text-anchor="end" fill="#3a9a55" stroke="#3a9a55" stroke-width="0.05" font-size="5.83" dy="0.42em" textLength="58.57" lengthAdjust="spacingAndGlyphs">Mycobacterium smegmatis</text>
<text transform="translate(270.65 378.23) rotate(-69.18)" text-anchor="end" fill="#3a9a55" stroke="#3a9a55" stroke-width="0.05" font-size="5.83" dy="0.42em" textLength="39.58" lengthAdjust="spacingAndGlyphs">Rhodococcus equi</text>
<text transform="translate(263.11 373.86) rotate(-58.28)" text-anchor="end" fill="#5b46ad" stroke="#5b46ad" stroke-width="0.05" font-size="5.83" dy="0.42em" textLength="73.19" lengthAdjust="spacingAndGlyphs">Actinobacillus pleuropneumoniae</text>
<text transform="translate(256.19 368.67) rotate(-47.37)" text-anchor="end" fill="#5b46ad" stroke="#5b46ad" stroke-width="0.05" font-size="5.83" dy="0.42em" textLength="32.48" lengthAdjust="spacingAndGlyphs">Vibrio cholerae</text>
<text transform="translate(250.5 362.16) rotate(-36.46)" text-anchor="end" fill="#5b46ad" stroke="#5b46ad" stroke-width="0.05" font-size="5.83" dy="0.42em" textLength="46.11" lengthAdjust="spacingAndGlyphs">Campylobacter jejuni</text>
<text transform="translate(246.15 354.72) rotate(-25.55)" text-anchor="end" fill="#5b46ad" stroke="#5b46ad" stroke-width="0.05" font-size="5.83" dy="0.42em" textLength="45.84" lengthAdjust="spacingAndGlyphs">Haemophilus ducreyi</text>
<text transform="translate(243.29 346.6) rotate(-14.64)" text-anchor="end" fill="#5b46ad" stroke="#5b46ad" stroke-width="0.05" font-size="5.83" dy="0.42em" textLength="40.72" lengthAdjust="spacingAndGlyphs">Helicobacter pylori</text>
<path d="M262.09 353.6L251.71 361.27M251.83 352L247.5 354.07M249.29 345.04L244.74 346.22M251.83 352A39 39 0 0 1 249.29 345.04M254.15 347.2L250.39 348.58M249.6 337.62L243.48 338.02M246.84 330.12L243.52 329.7M248.52 322.61L245.97 321.77M246.84 330.12A40.5 40.5 0 0 1 248.52 322.61M250.43 326.98L247.5 326.32M249.6 337.62A37.5 37.5 0 0 1 250.43 326.98M252.13 332.46L249.63 332.27M254.15 347.2A35 35 0 0 1 252.13 332.46M256.31 339.4L252.35 339.94M262.09 353.6A31 31 0 0 1 256.31 339.4M284.24 336.31L258.31 346.86M252.91 316.27L249.2 314.22M257.1 310.16L252.68 306.46M252.91 316.27A39 39 0 0 1 257.1 310.16M284.55 333.48L254.86 313.12M264.91 308.05L259.47 301.38M268.55 300.83L265.93 295.97M274.48 295.09L273.45 291.79M282.3 293.45L281.95 290.35M274.48 295.09A42 42 0 0 1 282.3 293.45M278.97 297.02L278.35 294.08M268.55 300.83A39 39 0 0 1 278.97 297.02M275 302.31L273.62 298.55M264.91 308.05A35 35 0 0 1 275 302.31M284.79 333.17L269.71 304.76M287.56 328.2L290.12 295.38M289.67 325.54L297.42 297.33M300.3 308.28L305.05 298.65M307.57 308.09L311.31 303.15M314.55 310.46L317.06 308.21M318.73 316.12L321.44 314.49M314.55 310.46A37 37 0 0 1 318.73 316.12M314.37 314.98L316.78 313.19M307.57 308.09A34 34 0 0 1 314.37 314.98M308.37 314.1L311.21 311.29M300.3 308.28A30 30 0 0 1 308.37 314.1M294.63 324.64L304.58 310.85M322.71 322.12L325.21 321.21M324.53 329.11L327.48 328.64M322.71 322.12A38 38 0 0 1 324.53 329.11M302.98 331.01L323.79 325.58M306.01 335.75L328.29 336.42M311.41 340.65L327.6 344.28M320.02 349.56L325.07 351.76M316.71 355.55L321.24 358.66M320.02 349.56A36 36 0 0 1 316.71 355.55M314.13 350.21L318.51 352.63M310.91 359.37L316.25 364.78M305.9 363.46L310.18 369.86M310.91 359.37A34 34 0 0 1 305.9 363.46M306.61 359.21L308.5 361.53M314.13 350.21A31 31 0 0 1 306.61 359.21M306.2 351.22L310.8 355.07M311.41 340.65A25 25 0 0 1 306.2 351.22M306.3 344.7L309.44 346.25M299.82 365.6L303.3 373.87M293.83 367.47L295.51 375.42M299.82 365.6A33 33 0 0 1 293.83 367.47M295.38 361.9L296.87 366.68M287.64 370.67L287.75 377.09M280.31 373.6L279.29 379.46M273.16 371.63L271.19 376.83M280.31 373.6A39 39 0 0 1 273.16 371.63M277.62 369.41L276.69 372.79M287.64 370.67A35.5 35.5 0 0 1 277.62 369.41M283.52 362.96L282.58 370.4M295.38 361.9A28 28 0 0 1 283.52 362.96M288.93 356.6L289.51 363.07M306.3 344.7A21.5 21.5 0 0 1 288.93 356.6M297.76 350.85L299.17 352.92M306.01 335.75A19 19 0 0 1 297.76 350.85M301.5 343.09L303.69 344.29M302.98 331.01A16.5 16.5 0 0 1 301.5 343.09M299.92 336.77L303.4 337.19M294.63 324.64A13 13 0 0 1 299.92 336.77M296.18 331.18L298.93 329.98M289.67 325.54A10 10 0 0 1 296.18 331.18M291.6 329.89L293.57 327.62M287.26 328.18A7 7 0 0 1 291.6 329.89M284.79 333.17L287.26 328.18M284.79 333.17L263.9 372.58M284.42 336.68L257.2 367.57M284.42 336.68A3 3 0 0 1 284.79 333.17" stroke="#3a3a3a" stroke-width="0.55" fill="none"/>
<g font-size="8.2" font-weight="bold" fill="#111" stroke="#111" stroke-width="0.15" font-style="normal">
<text x="4.75" y="10.25">A</text>
<text x="4.6" y="237.7">B</text>
<text x="191.3" y="237.7">C</text>
</g></svg>
</body></html>
